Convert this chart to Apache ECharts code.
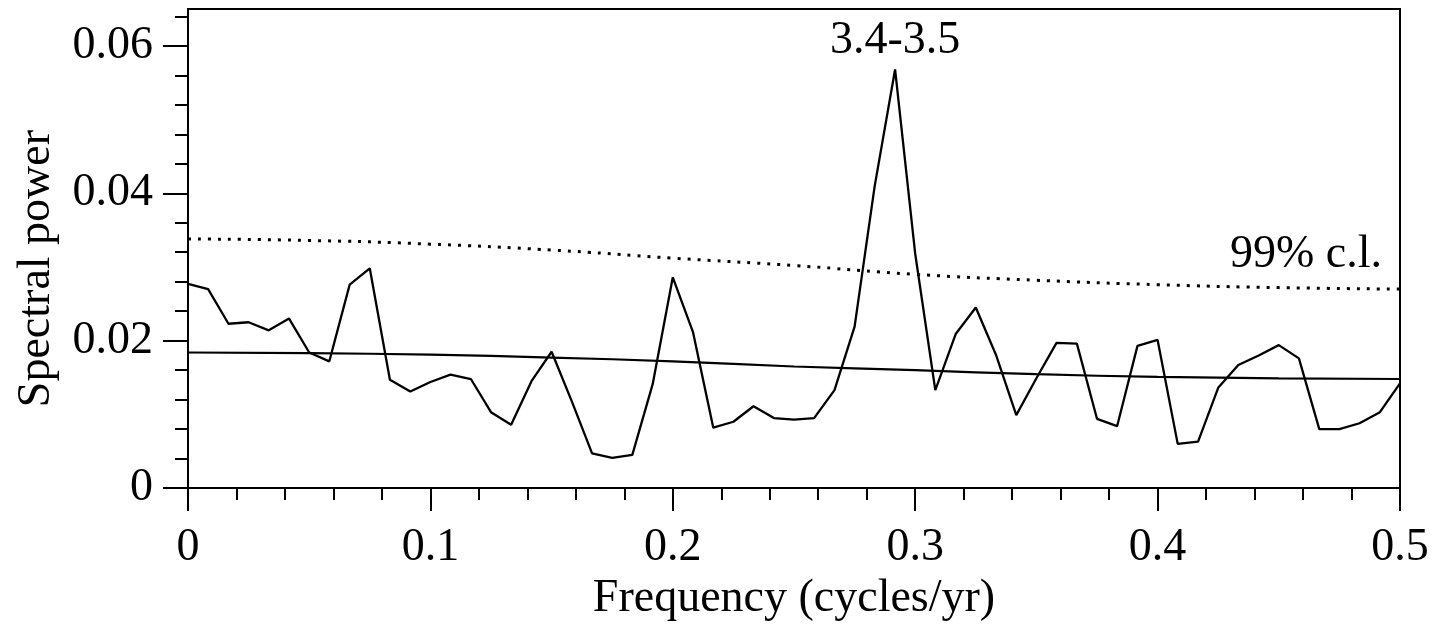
<!DOCTYPE html>
<html>
<head>
<meta charset="utf-8">
<script src="https://cdn.jsdelivr.net/npm/echarts@6/dist/echarts.min.js"></script>
<style>
html,body{margin:0;padding:0;background:#fff;}
#chart{width:1438px;height:627px;}
</style>
</head>
<body>
<div id="chart"></div>
<script>
// Frequencies (cycles/yr) of the spectrum estimates
const freq = [0, 0.0083, 0.0167, 0.025, 0.0333, 0.0417, 0.05, 0.0583, 0.0667, 0.075,
  0.0833, 0.0917, 0.1, 0.1083, 0.1167, 0.125, 0.1333, 0.1417, 0.15, 0.1583,
  0.1667, 0.175, 0.1833, 0.1917, 0.2, 0.2083, 0.2167, 0.225, 0.2333, 0.2417,
  0.25, 0.2583, 0.2667, 0.275, 0.2833, 0.2917, 0.3, 0.3083, 0.3167, 0.325,
  0.3333, 0.3417, 0.35, 0.3583, 0.3667, 0.375, 0.3833, 0.3917, 0.4, 0.4083,
  0.4167, 0.425, 0.4333, 0.4417, 0.45, 0.4583, 0.4667, 0.475, 0.4833, 0.4917, 0.5];
// Spectral power
const power = [0.0277, 0.0270, 0.0223, 0.0225, 0.0214, 0.0230, 0.0184, 0.0172, 0.0276, 0.0298,
  0.0147, 0.0131, 0.0144, 0.0154, 0.0148, 0.0103, 0.0086, 0.0145, 0.0185, 0.0118,
  0.0047, 0.0041, 0.0045, 0.0141, 0.0286, 0.0212, 0.0082, 0.0090, 0.0111, 0.0095,
  0.0093, 0.0095, 0.0133, 0.0219, 0.0410, 0.0568, 0.0318, 0.0133, 0.0209, 0.0245,
  0.0181, 0.0099, 0.0149, 0.0197, 0.0196, 0.0094, 0.0084, 0.0193, 0.0201, 0.0060,
  0.0063, 0.0136, 0.0167, 0.0180, 0.0194, 0.0176, 0.0080, 0.0080, 0.0088, 0.0103, 0.0142];
// Background (red-noise) spectrum and 99% confidence level
const noiseFreq = [0, 0.05, 0.1, 0.15, 0.2, 0.25, 0.3, 0.35, 0.4, 0.45, 0.5];
const redNoise = [0.0184, 0.0183, 0.0181, 0.0177, 0.0172, 0.0165, 0.0160, 0.01545, 0.0151, 0.0149, 0.0148];
const conf99 = [0.0338, 0.0336, 0.0331, 0.0323, 0.0312, 0.0302, 0.0290, 0.0282, 0.0276, 0.0272, 0.0270];
// Tick labels
const xTickValues = [0, 0.1, 0.2, 0.3, 0.4, 0.5];
const xTickLabels = ['0', '0.1', '0.2', '0.3', '0.4', '0.5'];
const yTickValues = [0, 0.02, 0.04, 0.06];
const yTickLabels = ['0', '0.02', '0.04', '0.06'];
const yMinorTickValues = [0.004, 0.008, 0.012, 0.016, 0.024, 0.028, 0.032, 0.036,
  0.044, 0.048, 0.052, 0.056, 0.064];
const peakLabel = '3.4-3.5';
const confLabel = '99% c.l.';

const FONT = "'Liberation Serif', 'DejaVu Serif', serif";
const pair = (xs, ys) => xs.map((x, i) => [x, ys[i]]);
const peakIdx = power.indexOf(Math.max.apply(null, power));

const chart = echarts.init(document.getElementById('chart'), null, {renderer: 'canvas'});
chart.setOption({
  animation: false,
  backgroundColor: '#fff',
  grid: {left: 188, right: 38, top: 9, bottom: 137, show: true, borderColor: '#000', borderWidth: 2, backgroundColor: 'transparent'},
  xAxis: {
    type: 'value', min: 0, max: 0.5, interval: 0.1,
    axisLine: {show: true, lineStyle: {color: '#000', width: 2}},
    axisTick: {show: true, length: 23, lineStyle: {color: '#000', width: 2}},
    minorTick: {show: true, splitNumber: 5, length: 12, lineStyle: {color: '#000', width: 2}},
    splitLine: {show: false}, minorSplitLine: {show: false},
    axisLabel: {margin: 37, fontSize: 46, fontFamily: FONT, color: '#000',
      customValues: xTickValues,
      formatter: v => xTickLabels[xTickValues.findIndex(t => Math.abs(t - v) < 1e-9)]},
    name: 'Frequency (cycles/yr)', nameLocation: 'middle', nameGap: 87,
    nameTextStyle: {fontSize: 46, fontFamily: FONT, color: '#000'}
  },
  yAxis: [{
    type: 'value', min: 0, max: 0.065, position: 'left',
    axisLine: {show: true, lineStyle: {color: '#000', width: 2}},
    axisTick: {show: true, length: 25, customValues: yTickValues, lineStyle: {color: '#000', width: 2}},
    splitLine: {show: false},
    axisLabel: {margin: 35, fontSize: 46, fontFamily: FONT, color: '#000',
      customValues: yTickValues,
      formatter: v => yTickLabels[yTickValues.findIndex(t => Math.abs(t - v) < 1e-9)]},
    name: 'Spectral power', nameLocation: 'middle', nameGap: 128,
    nameTextStyle: {fontSize: 46, fontFamily: FONT, color: '#000', padding: [0, 40, 0, 0]}
  }, {
    type: 'value', min: 0, max: 0.065, position: 'left',
    axisLine: {show: false},
    axisTick: {show: true, length: 13, customValues: yMinorTickValues, lineStyle: {color: '#000', width: 2}},
    axisLabel: {show: false},
    splitLine: {show: false}
  }],
  series: [{
    type: 'line', name: 'spectrum', data: pair(freq, power), symbol: 'none',
    lineStyle: {color: '#000', width: 2.3}, silent: true,
    markPoint: {
      symbol: 'circle', symbolSize: 0, silent: true,
      data: [{coord: [freq[peakIdx], power[peakIdx]]}],
      label: {show: true, formatter: peakLabel, position: 'top', distance: 6,
        fontSize: 46, fontFamily: FONT, color: '#000'}
    }
  }, {
    type: 'line', name: 'red noise', data: pair(noiseFreq, redNoise), symbol: 'none', smooth: true,
    lineStyle: {color: '#000', width: 2.2}, silent: true
  }, {
    type: 'line', name: '99% c.l.', data: pair(noiseFreq, conf99), symbol: 'none', smooth: true,
    lineStyle: {color: '#000', width: 3, type: [3, 7], cap: 'butt'}, silent: true,
    markPoint: {
      symbol: 'circle', symbolSize: 0, silent: true,
      data: [{coord: [noiseFreq[noiseFreq.length - 1], conf99[conf99.length - 1]]}],
      label: {show: true, formatter: confLabel, position: [-18, -11], align: 'right', verticalAlign: 'bottom',
        fontSize: 46, fontFamily: FONT, color: '#000'}
    }
  }]
});
</script>
</body>
</html>
